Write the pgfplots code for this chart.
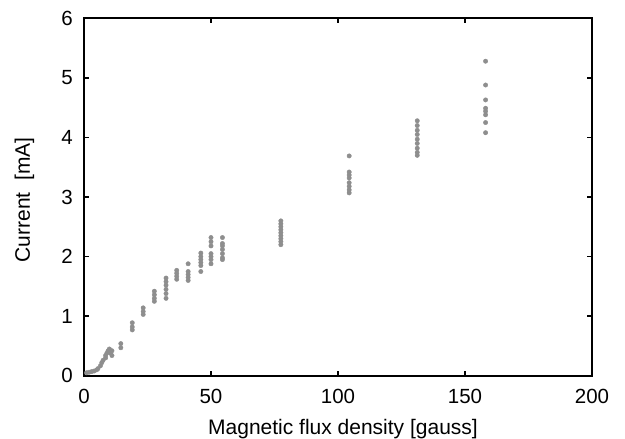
\documentclass[border=0pt]{standalone}
\usepackage{pgfplots}
\pgfplotsset{compat=1.18}
\usepackage{fontspec}
\setmainfont{Liberation Sans}
\definecolor{pt}{HTML}{8E8E8E}
\begin{document}
\begin{tikzpicture}
\begin{axis}[
  scale only axis,
  width=508pt, height=357.5pt,
  xmin=0, xmax=200, ymin=0, ymax=6,
  xtick={0,50,100,150,200}, ytick={0,1,2,3,4,5,6},
  tick align=inside,
  major tick length=5pt,
  axis line style={line width=2pt},
  every tick/.style={line width=1.6pt, black},
  /pgf/number format/assume math mode=true,
  ticklabel style={font=\fontsize{20.5pt}{24pt}\selectfont, inner sep=0pt},
  yticklabel style={anchor=east, xshift=-11pt},
  xticklabel style={anchor=base, yshift=-27.3pt},
  label style={font=\fontsize{21pt}{25pt}\selectfont, inner sep=0pt},
  xlabel={Magnetic flux density [gauss]},
  ylabel={Current\ \ [mA]},
  xlabel style={at={(axis description cs:0.5,0)}, anchor=base, yshift=-58.3pt, xshift=5pt},
  ylabel style={at={(axis description cs:0,0.5)}, anchor=base, yshift=54pt, xshift=-3pt},
  clip=false,
]
\addplot[only marks, mark=*, mark size=2.2pt, color=pt, mark options={draw=pt, fill=pt}] table {
x y
1 0.05
2 0.06
3 0.07
4 0.08
5 0.10
5.5 0.12
6.5 0.17
7 0.22
7.5 0.26
8.5 0.30
8.5 0.34
9 0.38
9.5 0.42
10 0.45
10.5 0.38
11 0.42
11 0.34
14.5 0.47
14.5 0.54
19 0.77
19 0.82
19 0.89
23.3 1.03
23.3 1.08
23.3 1.14
27.7 1.25
27.7 1.30
27.7 1.36
27.7 1.42
32.3 1.30
32.3 1.38
32.3 1.45
32.3 1.52
32.3 1.58
32.3 1.64
36.5 1.62
36.5 1.67
36.5 1.72
36.5 1.77
41 1.60
41 1.65
41 1.70
41 1.75
41 1.88
46 1.75
46 1.85
46 1.90
46 1.95
46 2.00
46 2.06
50 1.88
50 1.95
50 2.00
50 2.05
50 2.18
50 2.25
50 2.32
54.5 1.95
54.5 1.98
54.5 2.05
54.5 2.12
54.5 2.18
54.5 2.22
54.5 2.32
77.5 2.20
77.5 2.25
77.5 2.30
77.5 2.35
77.5 2.40
77.5 2.45
77.5 2.50
77.5 2.55
77.5 2.60
104.4 3.07
104.4 3.12
104.4 3.18
104.4 3.24
104.4 3.32
104.4 3.37
104.4 3.42
104.4 3.69
131.2 3.70
131.2 3.75
131.2 3.82
131.2 3.90
131.2 3.97
131.2 4.05
131.2 4.12
131.2 4.20
131.2 4.28
158.1 4.08
158.1 4.25
158.1 4.38
158.1 4.44
158.1 4.49
158.1 4.63
158.1 4.88
158.1 5.28
};
\end{axis}
\path (current axis.south west) ++(-84pt,-62.3pt) coordinate (bl);
\path (current axis.north east) ++(33pt,18.3pt) coordinate (tr);
\useasboundingbox (bl) rectangle (tr);
\end{tikzpicture}
\end{document}
